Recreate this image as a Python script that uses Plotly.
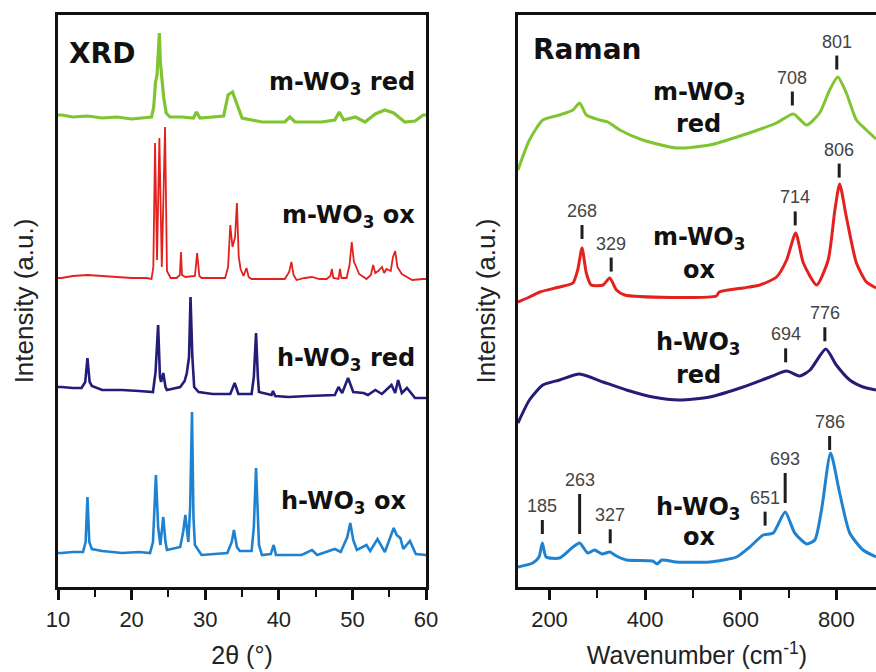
import numpy as np
import plotly.graph_objects as go

# ---------------- XRD data (2theta in deg, intensity a.u., stacked) ----------------
xrd_m_red_2t = [10.0, 10.5, 12.0, 14.0, 16.0, 18.0, 20.0, 22.0, 22.7, 23.0, 23.25, 23.45, 23.62, 23.77, 23.9,
                24.1, 24.35, 24.7, 25.2, 26.8, 28.4, 28.8, 29.3, 32.5, 33.1, 33.7, 34.3, 35.0, 37.7, 40.8,
                41.5, 42.2, 45.8, 47.6, 48.2, 48.8, 50.4, 51.7, 53.1, 54.4, 55.6, 57.1, 58.5, 59.6, 60.0]
xrd_m_red_i = [472, 472, 470, 471, 469, 470, 468, 469, 470, 480, 505, 512, 530, 554, 525,
               508, 490, 474, 470, 470, 469, 475, 469, 471, 492, 495, 482, 469, 465, 465,
               470, 465, 465, 467, 475, 467, 470, 465, 473, 477, 474, 465, 466, 472, 472]

xrd_m_ox_2t = [10.0, 10.5, 12.0, 14.0, 16.0, 18.0, 20.0, 22.0, 22.7, 22.95, 23.18, 23.45, 23.77, 24.1, 24.54,
               24.8, 25.3, 26.1, 26.55, 26.7, 26.85, 27.3, 28.6, 28.9, 29.2, 29.5, 32.7, 33.1, 33.4, 33.7,
               34.05, 34.3, 34.55, 34.8, 35.2, 35.6, 35.9, 36.3, 40.8, 41.4, 41.7, 42.0, 42.4, 43.5, 44.5,
               45.5, 46.5, 47.0, 47.2, 47.4, 48.1, 48.3, 48.5, 49.2, 49.6, 49.9, 50.2, 50.4, 50.9, 51.9,
               52.5, 52.8, 53.1, 53.5, 54.0, 54.3, 54.6, 55.2, 55.5, 55.8, 56.1, 56.7, 58.1, 59.6, 60.0]
xrd_m_ox_i = [309, 309, 311, 312, 311, 310, 309, 309, 308, 320, 444, 327, 449, 320, 460,
              316, 309, 309, 312, 335, 312, 310, 311, 334, 311, 309, 309, 320, 362, 340,
              350, 384, 330, 318, 311, 319, 310, 308, 308, 315, 325, 312, 307, 309, 310,
              308, 308, 311, 318, 309, 308, 318, 309, 309, 322, 345, 325, 322, 313, 308,
              312, 322, 314, 316, 320, 314, 318, 316, 330, 336, 320, 313, 307, 308, 308]

xrd_h_red_2t = [10.0, 10.5, 12.0, 13.2, 13.7, 14.0, 14.3, 14.6, 16.0, 18.7, 21.0, 22.9, 23.25, 23.6, 23.85,
                24.0, 24.3, 24.6, 24.8, 26.6, 27.2, 27.5, 27.8, 28.0, 28.25, 28.5, 29.1, 31.0, 33.4, 34.0,
                34.5, 36.3, 36.6, 36.9, 37.15, 37.3, 39.0, 39.2, 39.5, 41.3, 44.0, 47.6, 48.1, 48.6, 49.4,
                50.1, 51.5, 52.1, 53.1, 54.0, 55.3, 55.8, 56.2, 56.7, 57.4, 58.5, 59.6, 60.0]
xrd_h_red_i = [200, 200, 199, 199, 205, 229, 205, 201, 197, 197, 196, 195, 215, 262, 210,
               205, 214, 200, 197, 200, 206, 214, 230, 290, 230, 200, 195, 193, 193, 204,
               193, 193, 210, 254, 210, 195, 192, 196, 191, 190, 191, 192, 200, 194, 209,
               195, 194, 192, 197, 193, 202, 194, 207, 194, 199, 189, 189, 189]

xrd_h_ox_2t = [10.0, 10.5, 12.0, 13.4, 13.75, 14.0, 14.25, 14.6, 16.0, 18.7, 21.0, 22.5, 22.9, 23.3, 23.6,
               23.9, 24.3, 24.6, 24.8, 26.6, 27.0, 27.3, 27.55, 27.7, 27.95, 28.2, 28.4, 28.6, 29.5, 33.0,
               33.6, 33.9, 34.3, 34.7, 36.3, 36.6, 36.9, 37.15, 37.3, 37.7, 38.9, 39.3, 39.6, 43.1, 44.5,
               45.2, 47.6, 48.4, 49.3, 49.7, 50.1, 50.6, 51.9, 52.4, 53.4, 54.4, 55.2, 55.6, 56.0, 56.5,
               56.9, 57.8, 58.6, 59.6, 60.0]
xrd_h_ox_i = [34, 34, 35, 35, 45, 90, 45, 38, 36, 34, 35, 34, 45, 112, 60,
              42, 70, 45, 37, 40, 55, 72, 55, 45, 80, 175, 70, 42, 32, 34,
              45, 57, 40, 36, 36, 60, 119, 60, 42, 32, 33, 42, 32, 32, 37,
              32, 38, 35, 50, 64, 47, 37, 42, 36, 48, 35, 52, 59, 52, 49,
              38, 46, 33, 32, 32]

# ---------------- Raman data (wavenumber cm-1, intensity a.u., stacked) ----------------
ram_m_red_w = [134, 158, 186, 221, 249, 263, 277, 305, 322, 347, 395, 465, 535, 605, 675, 710, 738, 765,
               786, 803, 821, 842, 863, 883]
ram_m_red_i = [417, 447, 467, 472, 477, 484, 472, 467, 465, 457, 447, 439, 442, 452, 464, 473, 462, 474,
               497, 510, 494, 467, 457, 448]

ram_m_ox_w = [134, 158, 180, 221, 249, 259, 268, 277, 287, 312, 326, 340, 357, 549, 555, 605, 640, 675,
              696, 715, 731, 759, 783, 797, 807, 821, 842, 863, 883]
ram_m_ox_i = [285, 290, 295, 300, 304, 317, 339, 314, 302, 302, 309, 297, 292, 291, 295, 299, 302, 310,
              327, 354, 324, 302, 327, 377, 403, 370, 324, 305, 299]

ram_h_red_w = [134, 158, 186, 221, 263, 312, 361, 416, 472, 535, 605, 661, 696, 724, 745, 778, 800, 828,
               856, 883]
ram_h_red_i = [164, 187, 202, 207, 213, 205, 197, 190, 187, 190, 200, 210, 216, 211, 217, 238, 222, 207,
               200, 197]

ram_h_ox_w = [134, 165, 178, 185, 193, 221, 249, 263, 280, 294, 310, 326, 340, 361, 416, 425, 435, 465,
              535, 591, 619, 647, 668, 693, 713, 738, 755, 769, 788, 807, 828, 856, 883]
ram_h_ox_i = [20, 24, 30, 44, 30, 29, 40, 44, 34, 37, 33, 35, 31, 27, 26, 23, 27, 25,
              25, 30, 40, 52, 54, 75, 54, 43, 47, 77, 134, 94, 54, 37, 30]

# Raman peak labels (cm-1)
peaks_m_red = [708, 801]
peaks_m_ox = [268, 329, 714, 806]
peaks_h_red = [694, 776]
peaks_h_ox = [185, 263, 327, 651, 693, 786]

# ---------------- styles ----------------
C_GREEN = "#80c431"
C_RED = "#e3211f"
C_NAVY = "#231c78"
C_BLUE = "#1f82d0"

REG = "Liberation Sans, Arial, sans-serif"
BOLD = "DejaVu Sans, sans-serif"

fig = go.Figure()

xrd_series = [
    (xrd_h_ox_2t, xrd_h_ox_i, C_BLUE, "h-WO3 ox", 2.6),
    (xrd_h_red_2t, xrd_h_red_i, C_NAVY, "h-WO3 red", 2.6),
    (xrd_m_ox_2t, xrd_m_ox_i, C_RED, "m-WO3 ox", 1.8),
    (xrd_m_red_2t, xrd_m_red_i, C_GREEN, "m-WO3 red", 3.2),
]
for xs, ys, c, n, w in xrd_series:
    fig.add_trace(go.Scatter(x=xs, y=ys, mode="lines", line=dict(color=c, width=w),
                             name=n, showlegend=False, xaxis="x", yaxis="y"))

ram_series = [
    (ram_h_ox_w, ram_h_ox_i, C_BLUE, "h-WO3 ox", peaks_h_ox),
    (ram_h_red_w, ram_h_red_i, C_NAVY, "h-WO3 red", peaks_h_red),
    (ram_m_ox_w, ram_m_ox_i, C_RED, "m-WO3 ox", peaks_m_ox),
    (ram_m_red_w, ram_m_red_i, C_GREEN, "m-WO3 red", peaks_m_red),
]
for xs, ys, c, n, _ in ram_series:
    fig.add_trace(go.Scatter(x=xs, y=ys, mode="lines",
                             line=dict(color=c, width=3, shape="spline", smoothing=0.6),
                             name=n, showlegend=False, xaxis="x2", yaxis="y2"))

# peak markers and labels, placed relative to the curve value at the peak position
STEM_DEFAULT = 14
STEM_LONG = {263: 40, 693: 30}
GAP = 9
annotations = []
shapes = []
for xs, ys, c, n, peaks in ram_series:
    for p in peaks:
        base = float(np.interp(p, xs, ys)) + GAP
        top = base + STEM_LONG.get(p, STEM_DEFAULT)
        shapes.append(dict(type="line", xref="x2", yref="y2", x0=p, x1=p, y0=base, y1=top,
                           line=dict(color="#1e1e1e", width=3)))
        annotations.append(dict(text=str(p), x=p, y=top + 2, xref="x2", yref="y2",
                                xanchor="center", yanchor="bottom", showarrow=False,
                                font=dict(family=REG, size=18, color="#444444")))

# panel titles
annotations.append(dict(text="<b>XRD</b>", x=16.0, y=534, xref="x", yref="y", showarrow=False,
                        xanchor="center", yanchor="middle", font=dict(family=BOLD, size=28, color="#111")))
annotations.append(dict(text="<b>Raman</b>", x=278, y=538, xref="x2", yref="y2", showarrow=False,
                        xanchor="center", yanchor="middle", font=dict(family=BOLD, size=28, color="#111")))

# XRD series labels
xrd_labels = [("m-WO<sub>3</sub> red", 58.8, 504), ("m-WO<sub>3</sub> ox", 58.8, 371),
              ("h-WO<sub>3</sub> red", 58.8, 228), ("h-WO<sub>3</sub> ox", 57.5, 85)]
for t, x, y in xrd_labels:
    annotations.append(dict(text="<b>" + t + "</b>", x=x, y=y, xref="x", yref="y", showarrow=False,
                            xanchor="right", yanchor="middle", font=dict(family=BOLD, size=24, color="#111")))

# Raman series labels
ram_labels = [("m-WO<sub>3</sub>", 494), ("red", 463), ("m-WO<sub>3</sub>", 349), ("ox", 317),
              ("h-WO<sub>3</sub>", 244), ("red", 212), ("h-WO<sub>3</sub>", 79), ("ox", 50)]
for t, y in ram_labels:
    annotations.append(dict(text="<b>" + t + "</b>", x=512, y=y, xref="x2", yref="y2", showarrow=False,
                            xanchor="center", yanchor="middle", font=dict(family=BOLD, size=24, color="#111")))

axis_common = dict(showgrid=False, zeroline=False, showline=True, linecolor="#111", linewidth=3)

fig.update_layout(
    width=876, height=672,
    margin=dict(l=58, r=0, t=15, b=85),
    paper_bgcolor="white", plot_bgcolor="white",
    showlegend=False,
    xaxis=dict(domain=[0, 0.45], range=[10, 60], tick0=10, dtick=10, ticks="outside", ticklen=10,
               tickwidth=2.5, tickcolor="#111", mirror=True,
               minor=dict(dtick=5, tick0=10, ticks="outside", ticklen=7, tickwidth=2, tickcolor="#111"),
               tickfont=dict(family=REG, size=22, color="#222"), ticklabelstandoff=1,
               title=dict(text="2θ (°)", font=dict(family=REG, size=25, color="#222"), standoff=16),
               anchor="y", automargin=False, **axis_common),
    yaxis=dict(domain=[0, 1], range=[0, 572], showticklabels=False, ticks="", mirror=True,
               title=dict(text="Intensity (a.u.)", font=dict(family=REG, size=26, color="#222"), standoff=14),
               anchor="x", automargin=False, **axis_common),
    xaxis2=dict(domain=[0.5623, 1], range=[134, 883], tick0=0, dtick=200, ticks="outside", ticklen=10,
                tickwidth=2.5, tickcolor="#111", mirror=True,
                minor=dict(dtick=100, tick0=0, ticks="outside", ticklen=8, tickwidth=2, tickcolor="#111"),
                tickfont=dict(family=REG, size=22, color="#222"), ticklabelstandoff=1,
                title=dict(text="Wavenumber (cm<sup>-1</sup>)", font=dict(family=REG, size=25, color="#222"),
                           standoff=16),
                anchor="y2", automargin=False, **axis_common),
    yaxis2=dict(domain=[0, 1], range=[0, 572], showticklabels=False, ticks="", mirror=False,
                title=dict(text="Intensity (a.u.)", font=dict(family=REG, size=26, color="#222"), standoff=12),
                anchor="x2", automargin=False, **axis_common),
    annotations=annotations,
    shapes=shapes,
)

fig.write_html("out.html")
